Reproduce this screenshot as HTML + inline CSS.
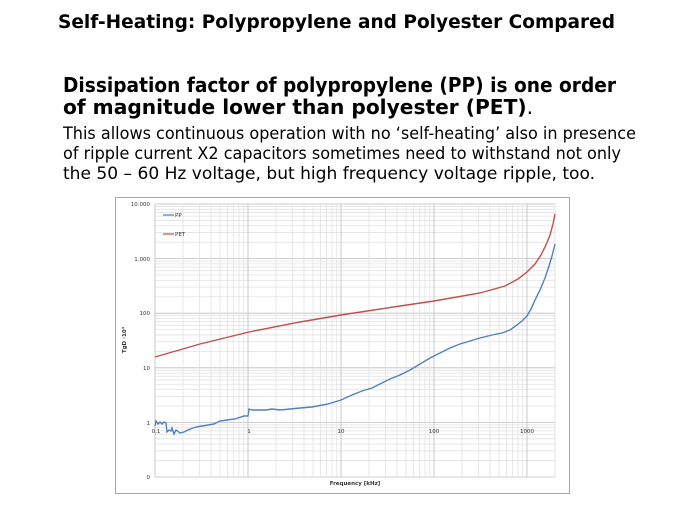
<!DOCTYPE html>
<html><head><meta charset="utf-8"><style>
html,body{margin:0;padding:0;background:#fff;width:674px;height:506px;overflow:hidden}
svg{display:block}
text{font-family:"DejaVu Sans","Liberation Sans",sans-serif}
</style></head><body>
<svg id="s" width="674" height="506" viewBox="0 0 674 506" xmlns="http://www.w3.org/2000/svg">
<text x="58" y="28" font-size="19" font-weight="bold" textLength="557" lengthAdjust="spacingAndGlyphs">Self-Heating: Polypropylene and Polyester Compared</text>
<text x="63" y="92" font-size="20" font-weight="bold" textLength="553" lengthAdjust="spacingAndGlyphs">Dissipation factor of polypropylene (PP) is one order</text>
<text x="63" y="114" font-size="20" textLength="470" lengthAdjust="spacingAndGlyphs"><tspan font-weight="bold">of magnitude lower than polyester (PET)</tspan>.</text>
<text x="63" y="139" font-size="16.5" textLength="573" lengthAdjust="spacingAndGlyphs">This allows continuous operation with no ‘self-heating’ also in presence</text>
<text x="63" y="159" font-size="16.5" textLength="558" lengthAdjust="spacingAndGlyphs">of ripple current X2 capacitors sometimes need to withstand not only</text>
<text x="63" y="179" font-size="16.5" textLength="532" lengthAdjust="spacingAndGlyphs">the 50 – 60 Hz voltage, but high frequency  voltage ripple, too.</text>
<rect x="115.5" y="197.5" width="454" height="296" fill="#fff" stroke="#a6a6a6" stroke-width="1"/>
<g id="grid"></g>
<g font-size="5.5" fill="#333" text-anchor="end">
<text x="150" y="206">10.000</text><text x="150" y="261">1.000</text><text x="150" y="315">100</text>
<text x="150" y="370">10</text><text x="150" y="425">1</text><text x="150" y="479">0</text>
</g>
<g font-size="5.5" fill="#333" text-anchor="middle">
<text x="156" y="433">0,1</text><text x="249" y="433">1</text><text x="341" y="433">10</text>
<text x="434" y="433">100</text><text x="527" y="433">1000</text>
<text x="355" y="485" font-weight="bold">Frequency [kHz]</text>
</g>
<text font-size="5.5" font-weight="bold" fill="#333" transform="translate(126,340) rotate(-90)" text-anchor="middle">TgD ·10⁴</text>
<line x1="163" y1="215" x2="174" y2="215" stroke="#4f81bd" stroke-width="1.2"/>
<text x="175" y="217" font-size="5.5" fill="#333">PP</text>
<line x1="163" y1="234" x2="174" y2="234" stroke="#c0504d" stroke-width="1.2"/>
<text x="175" y="236" font-size="5.5" fill="#333">PET</text>
<polyline fill="none" stroke="#c0504d" stroke-width="1.4" points="155,357 200,344 249,332 300,322 341,315 400,306 434,301 480,293 505,286 518,279 527,272 535,264 541,255 546,245 550,235 553,224 555,214"/>
<polyline fill="none" stroke="#4f81bd" stroke-width="1.4" points="155,426 156,421 158,424 160,422 162,424 164,422 166,423 167,432 169,430 171,431 172,428 174,434 176,430 180,433 184,432 188,430 193,428 196,427 202,426 208,425 214,424 220,421 227,420 235,419 244,416 248,416 249,409 252,410 258,410 266,410 272,409 280,410 290,409 300,408 312,407 328,404 341,400 352,395 362,391 372,388 380,384 390,379 400,375 410,370 420,364 430,358 440,353 450,348 460,344 470,341 480,338 492,335 502,333 510,330 517,325 522,321 527,316 531,309 535,300 540,290 545,278 549,266 552,256 555,244"/>
</svg>
<script>
var g=document.getElementById('grid'),h='';
var L=155,R=555,T=204,B=477,dx=93,dy=54.6;
for(var d=0;d<5;d++){for(var k=1;k<10;k++){var y=B-(d+Math.log10(k))*dy;if(y<T-0.5)continue;
h+='<line x1="'+L+'" x2="'+R+'" y1="'+y+'" y2="'+y+'" stroke="'+(k==1?'#bdbdbd':'#e2e2e2')+'" stroke-width="0.8"/>';}}
h+='<line x1="'+L+'" x2="'+R+'" y1="'+T+'" y2="'+T+'" stroke="#bdbdbd" stroke-width="0.8"/>';
for(var d=0;d<5;d++){for(var k=1;k<10;k++){var x=L+(d+Math.log10(k))*dx;if(x>R+0.5)continue;
h+='<line y1="'+T+'" y2="'+B+'" x1="'+x+'" x2="'+x+'" stroke="'+(k==1?'#bdbdbd':'#e2e2e2')+'" stroke-width="0.8"/>';}}
h+='<line y1="'+T+'" y2="'+B+'" x1="'+R+'" x2="'+R+'" stroke="#e2e2e2" stroke-width="0.8"/>';
g.innerHTML=h;
</script>
</body></html>
